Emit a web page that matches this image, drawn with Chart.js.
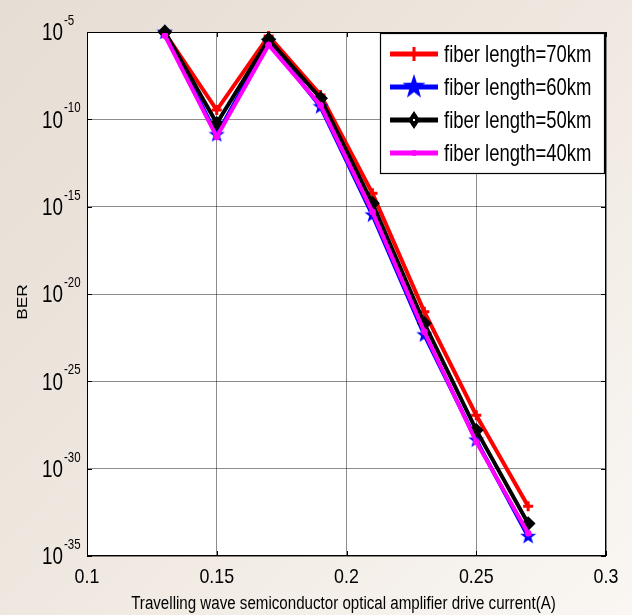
<!DOCTYPE html>
<html>
<head>
<meta charset="utf-8">
<script src="https://cdn.jsdelivr.net/npm/chart.js@4/dist/chart.umd.min.js"></script>
<style>
  html, body { margin: 0; padding: 0; background: #f4efe9; }
  canvas { display: block; }
</style>
</head>
<body>
<canvas id="berChart" width="632" height="615"></canvas>
<script>
// drive current (A)
const current = [0.13, 0.15, 0.17, 0.19, 0.21, 0.23, 0.25, 0.27];

// BER per fiber length
const ber70 = [8.9e-6, 3.4e-10, 5.9e-6, 2.5e-9, 5.8e-15, 9.5e-22, 1.15e-27, 7.1e-33];
const ber60 = [9.5e-6, 1.3e-11, 2.8e-6, 5.2e-10, 3.3e-16, 4.5e-23, 4.3e-29, 1.3e-34];
const ber50 = [1.0e-5, 5.9e-11, 3.8e-6, 1.6e-9, 1.55e-15, 2.1e-22, 1.6e-28, 7.2e-34];
const ber40 = [6.3e-6, 1.0e-11, 1.8e-6, 6.3e-10, 5.0e-16, 6.9e-23, 3.4e-29, 2.0e-34];

const seriesLabels = ['fiber length=70km', 'fiber length=60km', 'fiber length=50km', 'fiber length=40km'];
const xTicks = [0.1, 0.15, 0.2, 0.25, 0.3];
const yTickExponents = [-35, -30, -25, -20, -15, -10, -5];

const FONT = '"Liberation Sans", Arial, sans-serif';

// filled five point star used as the blue marker
function makeStar(size, color) {
    const c = document.createElement('canvas');
    c.width = size; c.height = size;
    const g = c.getContext('2d');
    const cx = size / 2, cy = size / 2, outer = size / 2, inner = outer * 0.4;
    g.beginPath();
    for (let i = 0; i < 10; i++) {
        const r = i % 2 === 0 ? outer : inner;
        const a = -Math.PI / 2 + i * Math.PI / 5;
        g.lineTo(cx + r * Math.cos(a), cy + r * Math.sin(a));
    }
    g.closePath();
    g.fillStyle = color;
    g.fill();
    return c;
}
const starSmall = makeStar(17, '#0000ff');
const starBig = makeStar(24, '#0000ff');

function toPoints(ys) {
    return current.map((x, i) => ({ x: x, y: ys[i] }));
}

function drawText(ctx, text, x, y, size, align, sx) {
    ctx.save();
    ctx.translate(x, y);
    ctx.scale(sx, 1);
    ctx.font = size + 'px ' + FONT;
    ctx.textAlign = align;
    ctx.textBaseline = 'middle';
    ctx.fillStyle = '#000';
    ctx.fillText(text, 0, 0);
    ctx.restore();
}

const styles = [
    { color: '#ff0000', pointStyle: 'cross', radius: 5, pw: 3 },
    { color: '#0000ff', pointStyle: starSmall, radius: 8, pw: 1 },
    { color: '#000000', pointStyle: 'rectRot', radius: 6, pw: 2 },
    { color: '#ff00ff', pointStyle: 'circle', radius: 3, pw: 1 }
];

const datasets = [ber70, ber60, ber50, ber40].map((ys, i) => ({
    label: seriesLabels[i],
    data: toPoints(ys),
    borderColor: styles[i].color,
    backgroundColor: styles[i].color,
    borderWidth: 4,
    pointStyle: styles[i].pointStyle,
    pointRadius: styles[i].radius,
    pointBorderWidth: styles[i].pw,
    pointBorderColor: styles[i].color,
    pointBackgroundColor: styles[i].color,
    tension: 0,
    clip: false,
    order: 4 - i
}));

// page background, white plot area
const backdrop = {
    id: 'backdrop',
    beforeDraw(chart) {
        const ctx = chart.ctx, a = chart.chartArea;
        ctx.save();
        const grad = ctx.createLinearGradient(0, 0, chart.width, chart.height);
        grad.addColorStop(0, '#e6ddd4');
        grad.addColorStop(0.5, '#efe8e0');
        grad.addColorStop(1, '#faf7f3');
        ctx.fillStyle = grad;
        ctx.fillRect(0, 0, chart.width, chart.height);
        ctx.fillStyle = '#ffffff';
        ctx.fillRect(a.left, a.top, a.right - a.left, a.bottom - a.top);
        ctx.restore();
    }
};

// MATLAB style frame, tick labels, titles and legend
const decorations = {
    id: 'decorations',
    afterDraw(chart) {
        const ctx = chart.ctx, a = chart.chartArea;
        const xs = chart.scales.x, ys = chart.scales.y;
        ctx.save();

        ctx.strokeStyle = '#000';
        ctx.lineWidth = 1;
        ctx.strokeRect(a.left + 0.5, a.top + 0.5, a.right - a.left - 1, a.bottom - a.top - 1);

        // inward ticks
        ctx.beginPath();
        xTicks.forEach(v => {
            const px = Math.round(xs.getPixelForValue(v)) + 0.5;
            ctx.moveTo(px, a.bottom); ctx.lineTo(px, a.bottom - 5);
            ctx.moveTo(px, a.top); ctx.lineTo(px, a.top + 5);
        });
        yTickExponents.forEach(e => {
            const py = Math.round(ys.getPixelForValue(Math.pow(10, e))) + 0.5;
            ctx.moveTo(a.left, py); ctx.lineTo(a.left + 5, py);
            ctx.moveTo(a.right, py); ctx.lineTo(a.right - 5, py);
        });
        ctx.stroke();

        // x tick labels
        xTicks.forEach(v => {
            const px = xs.getPixelForValue(v);
            drawText(ctx, String(v), px, a.bottom + 21, 21, 'center', 0.85);
        });

        // y tick labels as 10 with superscript exponent
        yTickExponents.forEach(e => {
            const py = ys.getPixelForValue(Math.pow(10, e));
            drawText(ctx, '10', a.left - 24, py + 2, 23, 'right', 0.82);
            drawText(ctx, String(e), a.left - 23, py - 11, 14, 'left', 0.82);
        });

        // axis titles
        drawText(ctx, 'Travelling wave semiconductor optical amplifier drive current(A)',
            (a.left + a.right) / 2 - 3, a.bottom + 48, 18, 'center', 0.84);
        ctx.save();
        ctx.translate(23, (a.top + a.bottom) / 2 + 8);
        ctx.rotate(-Math.PI / 2);
        drawText(ctx, 'BER', 0, 0, 15, 'center', 1.15);
        ctx.restore();

        // legend box
        const lx = a.right - 226, ly = a.top + 1, lw = 224, lh = 140;
        ctx.fillStyle = '#ffffff';
        ctx.fillRect(lx, ly, lw, lh);
        ctx.strokeStyle = '#000';
        ctx.lineWidth = 1.2;
        ctx.strokeRect(lx + 0.5, ly + 0.5, lw, lh);
        chart.data.datasets.forEach((ds, i) => {
            const cy = ly + 21 + i * 33;
            const x0 = lx + 10, x1 = lx + 58, xm = (x0 + x1) / 2;
            ctx.strokeStyle = ds.borderColor;
            ctx.lineWidth = 5;
            ctx.beginPath();
            ctx.moveTo(x0, cy); ctx.lineTo(x1, cy);
            ctx.stroke();
            ctx.fillStyle = ds.borderColor;
            if (i === 0) {
                ctx.lineWidth = 3;
                ctx.beginPath();
                ctx.moveTo(xm, cy - 7); ctx.lineTo(xm, cy + 7);
                ctx.moveTo(xm - 6, cy); ctx.lineTo(xm + 6, cy);
                ctx.stroke();
            } else if (i === 1) {
                ctx.drawImage(starBig, xm - 12, cy - 13, 24, 26);
            } else if (i === 2) {
                ctx.lineWidth = 2;
                ctx.beginPath();
                ctx.moveTo(xm, cy - 9); ctx.lineTo(xm + 6, cy);
                ctx.lineTo(xm, cy + 9); ctx.lineTo(xm - 6, cy);
                ctx.closePath();
                ctx.fill();
                ctx.fillStyle = '#fff';
                ctx.fillRect(xm - 1, cy - 1, 2, 2);
            } else {
                ctx.beginPath();
                ctx.arc(xm, cy, 3, 0, Math.PI * 2);
                ctx.fill();
            }
            drawText(ctx, ds.label, lx + 64, cy + 1, 24, 'left', 0.77);
        });

        ctx.restore();
    }
};

const ctx = document.getElementById('berChart').getContext('2d');
new Chart(ctx, {
    type: 'line',
    data: { datasets: datasets },
    options: {
        responsive: false,
        animation: false,
        layout: { padding: { left: 87, top: 32, right: 26, bottom: 59 } },
        scales: {
            x: {
                type: 'linear',
                min: 0.1,
                max: 0.3,
                afterBuildTicks: scale => { scale.ticks = xTicks.map(v => ({ value: v })); },
                ticks: { display: false },
                border: { display: false },
                grid: { color: 'rgba(0,0,0,0.45)', lineWidth: 1, drawTicks: false }
            },
            y: {
                type: 'logarithmic',
                min: 1e-35,
                max: 1e-5,
                afterBuildTicks: scale => { scale.ticks = yTickExponents.map(e => ({ value: Math.pow(10, e) })); },
                ticks: { display: false },
                border: { display: false },
                grid: { color: 'rgba(0,0,0,0.45)', lineWidth: 1, drawTicks: false }
            }
        },
        plugins: {
            legend: { display: false },
            tooltip: { enabled: false }
        }
    },
    plugins: [backdrop, decorations]
});
</script>
</body>
</html>
